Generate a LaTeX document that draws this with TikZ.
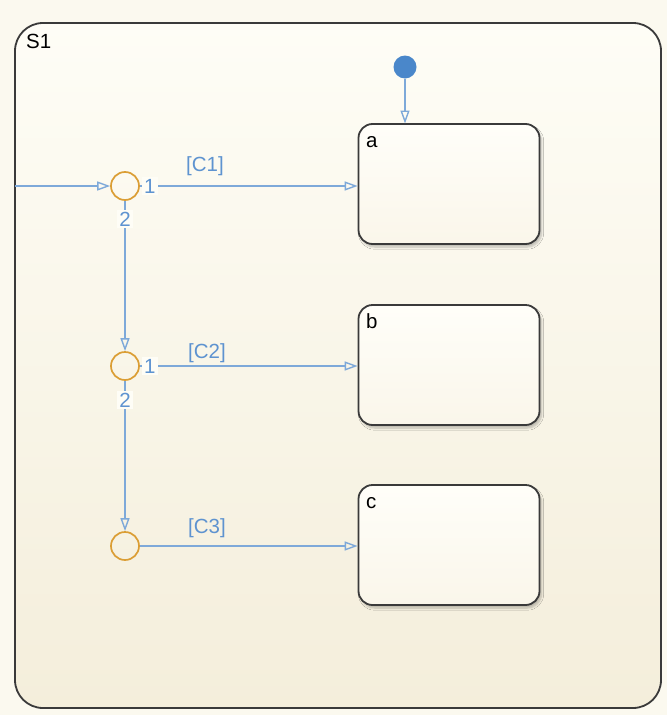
\documentclass[tikz,border=0pt]{standalone}
\usepackage{fontspec}
\setmainfont{Liberation Sans}
\usetikzlibrary{arrows.meta,shadows.blur}
\definecolor{pagebg}{HTML}{FBF9EF}
\definecolor{chtop}{HTML}{FEFDF6}
\definecolor{chbot}{HTML}{F4EEDB}
\definecolor{sttop}{HTML}{FFFEF9}
\definecolor{stbot}{HTML}{FAF6EA}
\definecolor{edge}{HTML}{3A3A3A}
\definecolor{trans}{HTML}{7EA9D9}
\definecolor{transtxt}{HTML}{5E93D0}
\definecolor{junc}{HTML}{DB9E35}
\definecolor{dotc}{HTML}{4A87CA}
\tikzset{
  txt/.style={font=\fontsize{20.5}{22}\selectfont, inner sep=0pt},
  chartbox/.style={draw=edge, line width=1.8pt, rounded corners=28pt, top color=chtop, bottom color=chbot},
  statebox/.style={draw=edge, line width=1.8pt, rounded corners=14pt, top color=sttop, bottom color=stbot,
     minimum width=181pt, minimum height=120pt, inner sep=0pt,
     blur shadow={shadow xshift=2pt, shadow yshift=-3pt, shadow blur steps=6, shadow opacity=25}},
  junction/.style={circle, draw=junc, line width=1.7pt, minimum size=28pt, inner sep=0pt},
  tr/.style={draw=trans, line width=1.5pt, -{Triangle[open, length=13pt, width=9pt, line width=1.4pt]}},
  tlab/.style={txt, text=transtxt},
  numlab/.style={txt, text=transtxt, inner sep=2pt},
}
\begin{document}
\begin{tikzpicture}[x=1pt,y=-1pt]
\useasboundingbox[fill=pagebg] (0,0) rectangle (667,715);
% chart
\path[chartbox] (15,23) rectangle (661,708);
\node[txt, anchor=base west] (s1lab) at (26,48) {S1};
% states
\node[statebox] (a) at (449,184) {};
\node[statebox] (b) at (449,365) {};
\node[statebox] (c) at (449,545) {};
\node[txt, anchor=base west] (alab) at (366,147) {a};
\node[txt, anchor=base west] (blab) at (366,328) {b};
\node[txt, anchor=base west] (clab) at (366,508) {c};
% junctions
\node[junction] (j1) at (125,186) {};
\node[junction] (j2) at (125,366) {};
\node[junction] (j3) at (125,546) {};
% default transition
\node[circle, fill=dotc, minimum size=23pt, inner sep=0pt] (dot) at (405,67) {};
\draw[tr] (dot) -- (405,123.5);
% incoming
\coordinate (in) at (15,186);
\draw[tr] (in) -- (j1.west);
% horizontal transitions
\draw[tr] (j1.east) -- (a.west |- j1);
\draw[tr] (j2.east) -- (b.west |- j2);
\draw[tr] (j3.east) -- (c.west |- j3);
% vertical transitions
\draw[tr] (j1.south) -- (j2.north);
\draw[tr] (j2.south) -- (j3.north);
% number labels (cover line)
\node[numlab, fill=chtop, anchor=west] (n11) at (142,186) {1};
\node[numlab, fill=chtop] (n12) at (125,219) {2};
\node[numlab, fill=chtop, anchor=west] (n21) at (142,366) {1};
\node[numlab, fill=chtop] (n22) at (125,400) {2};
% guard labels
\node[tlab, anchor=base] (g1) at (205,171) {[C1]};
\node[tlab, anchor=base] (g2) at (207,358) {[C2]};
\node[tlab, anchor=base] (g3) at (207,533) {[C3]};
\end{tikzpicture}
\end{document}
